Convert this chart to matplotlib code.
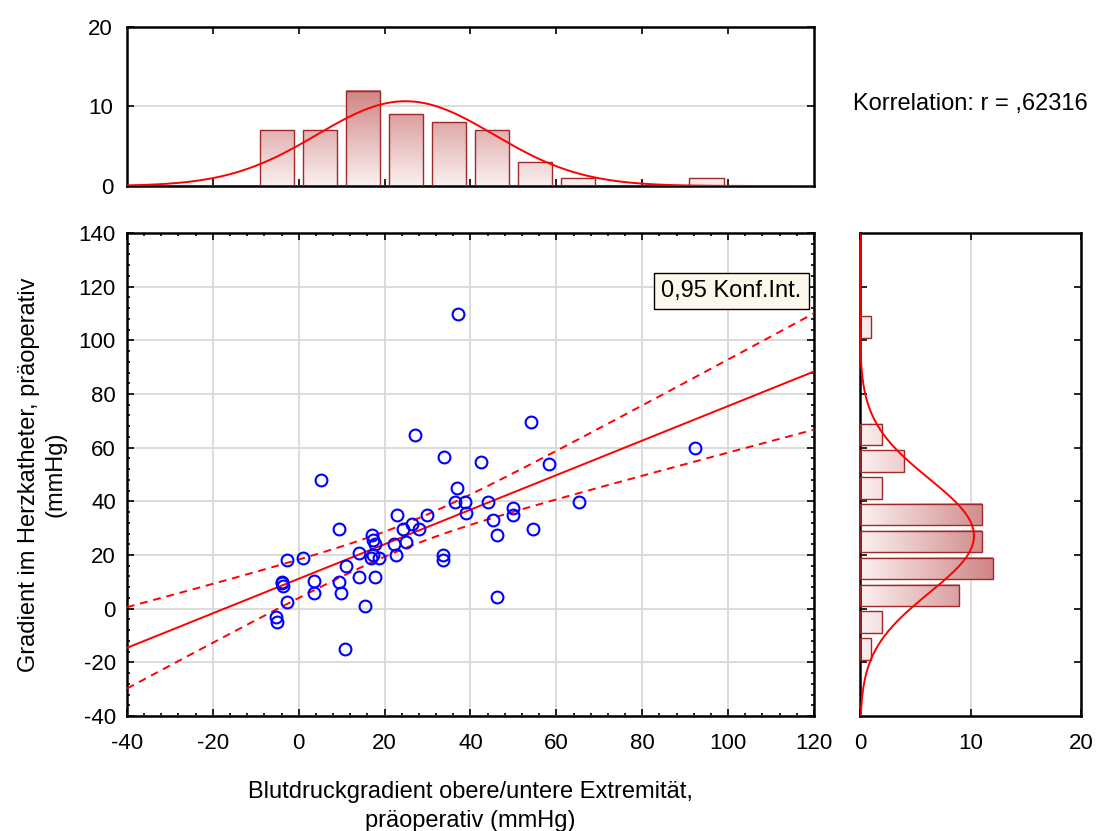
import numpy as np
import matplotlib
matplotlib.use("Agg")
import matplotlib.pyplot as plt
from matplotlib.colors import LinearSegmentedColormap
from matplotlib.patches import Rectangle
from matplotlib.ticker import MultipleLocator

plt.rcParams['font.family'] = ['Liberation Sans', 'DejaVu Sans']
plt.rcParams['axes.unicode_minus'] = False

# Blutdruckgradient (x) vs. Herzkatheter-Gradient (y), mmHg
bp_grad = [37.0, 54.2, 27.1, 33.9, 42.4, 58.4, 5.2, 36.9, 36.4, 38.7,
           44.1, 65.2, 39.0, 49.8, 49.8, 45.3, 46.1, 54.6, 46.1, 22.9,
           29.8, 26.4, 28.1, 24.2, 25.0, 22.1, 22.6, 33.5, 33.5, 9.3,
           17.1, 17.4, 17.8, 14.0, 16.8, 17.2, 18.8, 11.1, 14.0, 17.8,
           0.9, -2.8, -3.9, -3.6, -4.0, -2.8, -5.4, -5.0, 3.5, 3.5,
           9.4, 9.8, 15.4, 10.8, 92.3]
cath_grad = [109.8, 69.5, 64.7, 56.7, 54.6, 53.9, 47.8, 45.0, 39.8, 39.8,
             39.8, 39.8, 35.7, 37.6, 34.8, 32.9, 27.5, 29.6, 4.5, 34.9,
             34.9, 31.6, 29.6, 29.6, 24.7, 24.1, 19.9, 19.9, 18.1, 29.6,
             27.3, 25.6, 24.1, 20.8, 18.9, 19.9, 18.9, 16.0, 11.9, 11.9,
             18.9, 18.0, 9.9, 8.5, 9.6, 2.4, -3.0, -5.1, 10.4, 5.9,
             9.9, 5.9, 1.1, -15.1, 59.9]

# Histogramme (Klassenbreite 10)
bin_width = 10
x_bin_centers = [-15, -5, 5, 15, 25, 35, 45, 55, 65, 75, 85, 95, 105]
x_counts = [0, 7, 7, 12, 9, 8, 7, 3, 1, 0, 0, 1, 0]
y_bin_centers = [-15, -5, 5, 15, 25, 35, 45, 55, 65, 75, 85, 95, 105]
y_counts = [1, 2, 9, 12, 11, 11, 2, 4, 2, 0, 0, 0, 1]

t_crit = 2.006  # t(0.975, df=53)
r_text = "Korrelation: r = ,62316"
ci_text = "0,95 Konf.Int."
xlabel = "Blutdruckgradient obere/untere Extremität,\npräoperativ (mmHg)"
ylabel = "Gradient im Herzkatheter, präoperativ\n(mmHg)"

x = np.array(bp_grad)
y = np.array(cath_grad)
n = len(x)

bar_cmap = LinearSegmentedColormap.from_list("bars", ["#fbf0f0", "#d08585"])
edge_col = "#a02828"
grid_col = "#d9d9d9"
fs_tick = 16
fs = 17

fig = plt.figure(figsize=(11.04, 8.31), dpi=100)
ax = fig.add_axes([0.1150, 0.1384, 0.6223, 0.5812])
ax_top = fig.add_axes([0.1150, 0.7762, 0.6223, 0.1913])
ax_right = fig.add_axes([0.7790, 0.1384, 0.2002, 0.5812])

for a in (ax, ax_top, ax_right):
    for s in a.spines.values():
        s.set_linewidth(1.8)
    a.tick_params(which='both', direction='in', top=True, right=True,
                  labelsize=fs_tick, width=1.2)
    a.tick_params(which='major', length=5)
    a.tick_params(which='minor', length=2.5)

# Streudiagramm mit Regressionsgerade und Konfidenzband
xm, ym = x.mean(), y.mean()
sxx = np.sum((x - xm) ** 2)
slope = np.sum((x - xm) * (y - ym)) / sxx
icpt = ym - slope * xm
resid = y - (icpt + slope * x)
s_err = np.sqrt(np.sum(resid ** 2) / (n - 2))
xx = np.linspace(-40, 120, 200)
yy = icpt + slope * xx
half = t_crit * s_err * np.sqrt(1 / n + (xx - xm) ** 2 / sxx)

ax.set_xlim(-40, 120)
ax.set_ylim(-40, 140)
ax.xaxis.set_major_locator(MultipleLocator(20))
ax.yaxis.set_major_locator(MultipleLocator(20))
ax.xaxis.set_minor_locator(MultipleLocator(4))
ax.yaxis.set_minor_locator(MultipleLocator(4))
ax.grid(True, which='major', color=grid_col, linewidth=1.3)
ax.set_axisbelow(True)
ax.plot(xx, yy, color='red', linewidth=1.4, zorder=3)
ax.plot(xx, yy + half, color='red', linewidth=1.4, linestyle=(0, (4, 3)), zorder=3)
ax.plot(xx, yy - half, color='red', linewidth=1.4, linestyle=(0, (4, 3)), zorder=3)
ax.plot(x, y, 'o', mfc='none', mec='#0000ff', ms=8.5, mew=1.5, zorder=4)
ax.text(0.982, 0.903, ci_text, transform=ax.transAxes, ha='right', va='top',
        fontsize=fs, zorder=5,
        bbox=dict(boxstyle='square,pad=0.3', fc='#fdf8ec', ec='black', lw=1.0))
ax.set_xlabel(xlabel, fontsize=fs, labelpad=20, linespacing=1.4)
ax.set_ylabel(ylabel, fontsize=fs, labelpad=9, linespacing=1.25)
ax.tick_params(axis='x', pad=12)
ax.tick_params(axis='y', pad=8)


def gauss(v, values):
    mu, sd = np.mean(values), np.std(values, ddof=1)
    return len(values) * bin_width / (sd * np.sqrt(2 * np.pi)) * \
        np.exp(-0.5 * ((v - mu) / sd) ** 2)


vmax = max(max(x_counts), max(y_counts))
bw = 8.0

# Histogramm oben (x-Verteilung)
ax_top.yaxis.set_major_locator(MultipleLocator(10))
ax_top.set_xticks(np.arange(-20, 101, 20))
ax_top.set_xticklabels([])
ax_top.grid(True, axis='y', color=grid_col, linewidth=1.3)
ax_top.set_axisbelow(True)
for c, h in zip(x_bin_centers, x_counts):
    if h > 0:
        grad = np.linspace(0, h, 64)[:, None]
        ax_top.imshow(grad, extent=(c - bw / 2, c + bw / 2, 0, h), origin='lower',
                      cmap=bar_cmap, vmin=0, vmax=vmax, aspect='auto', zorder=2)
    ax_top.add_patch(Rectangle((c - bw / 2, 0), bw, h, fill=False,
                               ec=edge_col, lw=1.0, zorder=3))
vx = np.linspace(-40, 120, 300)
ax_top.plot(vx, gauss(vx, x), color='red', linewidth=1.4, zorder=4)
ax_top.set_xlim(-40, 120)
ax_top.set_ylim(0, 20)
ax_top.tick_params(axis='y', pad=10)
fig.text(853 / 1104, 1 - 104 / 831, r_text, fontsize=fs, ha='left', va='center')

# Histogramm rechts (y-Verteilung)
ax_right.xaxis.set_major_locator(MultipleLocator(10))
ax_right.set_yticks(np.arange(-20, 121, 20))
ax_right.set_yticklabels([])
ax_right.grid(True, axis='x', color=grid_col, linewidth=1.3)
ax_right.set_axisbelow(True)
for c, w in zip(y_bin_centers, y_counts):
    if w > 0:
        grad = np.linspace(0, w, 64)[None, :]
        ax_right.imshow(grad, extent=(0, w, c - bw / 2, c + bw / 2), origin='lower',
                        cmap=bar_cmap, vmin=0, vmax=vmax, aspect='auto', zorder=2)
        ax_right.add_patch(Rectangle((0, c - bw / 2), w, bw, fill=False,
                                     ec=edge_col, lw=1.0, zorder=3))
vy = np.linspace(-40, 140, 300)
ax_right.plot(gauss(vy, y), vy, color='red', linewidth=1.4, zorder=4)
ax_right.set_xlim(0, 20)
ax_right.set_ylim(-40, 140)
ax_right.tick_params(axis='x', pad=12)

fig.savefig("out.png", dpi=100)
